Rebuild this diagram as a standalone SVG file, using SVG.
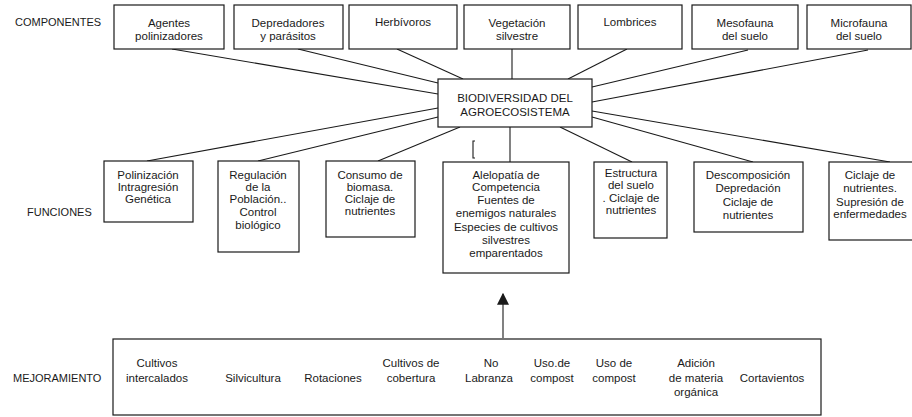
<svg xmlns="http://www.w3.org/2000/svg" width="912" height="417" viewBox="0 0 912 417">
<defs>
<style>
.box{fill:#fff;stroke:#1a1a1a;stroke-width:1.2}
.t{font-family:"Liberation Sans",Arial,sans-serif;font-size:11.5px;fill:#1a1a1a;text-anchor:middle}
.f{font-family:"Liberation Sans",Arial,sans-serif;font-size:11.5px;fill:#1a1a1a;text-anchor:middle}
.lab{font-family:"Liberation Sans",Arial,sans-serif;font-size:11px;fill:#1a1a1a}
.c{stroke:#1a1a1a;stroke-width:1.1;fill:none}
</style>
<marker id="ah" viewBox="0 0 10 10" refX="9" refY="5" markerWidth="12" markerHeight="12" markerUnits="userSpaceOnUse" orient="auto">
<path d="M0,0 L10,5 L0,10 z" fill="#1a1a1a"/>
</marker>
</defs>
<rect width="912" height="417" fill="#fff"/>

<text class="lab" x="15" y="26">COMPONENTES</text>
<text class="lab" x="27" y="216">FUNCIONES</text>
<text class="lab" x="13" y="382">MEJORAMIENTO</text>

<g id="connectors">
<line class="c" x1="172" y1="49" x2="438" y2="94"/>
<line class="c" x1="298" y1="49" x2="438" y2="83"/>
<line class="c" x1="397" y1="49" x2="463" y2="79"/>
<line class="c" x1="512" y1="49" x2="512" y2="79"/>
<line class="c" x1="627" y1="49" x2="568" y2="79"/>
<line class="c" x1="748" y1="50" x2="592" y2="87"/>
<line class="c" x1="868" y1="50" x2="592" y2="102"/>
<line class="c" x1="147" y1="161" x2="438" y2="108"/>
<line class="c" x1="258" y1="161" x2="438" y2="117"/>
<line class="c" x1="378" y1="161" x2="460" y2="127"/>
<line class="c" x1="510" y1="127" x2="510" y2="162"/>
<line class="c" x1="560" y1="127" x2="632" y2="162"/>
<line class="c" x1="592" y1="117" x2="753" y2="162"/>
<line class="c" x1="592" y1="111" x2="890" y2="162"/>
<path class="c" d="M475,141 L473,141 L473,158 L475,158"/>
<line class="c" x1="503" y1="338" x2="503" y2="294" marker-end="url(#ah)"/>
</g>

<g id="n-agentes"><rect class="box" x="114" y="5" width="110" height="44"/><text class="t" x="169" y="27">Agentes</text><text class="t" x="169" y="40">polinizadores</text></g>
<g id="n-depredadores"><rect class="box" x="234" y="5" width="109" height="44"/><text class="t" x="288" y="27">Depredadores</text><text class="t" x="288" y="40">y parásitos</text></g>
<g id="n-herbivoros"><rect class="box" x="349" y="5" width="108" height="44"/><text class="t" x="403" y="26">Herbívoros</text></g>
<g id="n-vegetacion"><rect class="box" x="464" y="5" width="106" height="44"/><text class="t" x="517" y="27">Vegetación</text><text class="t" x="517" y="40">silvestre</text></g>
<g id="n-lombrices"><rect class="box" x="578" y="5" width="104" height="44"/><text class="t" x="630" y="26">Lombrices</text></g>
<g id="n-mesofauna"><rect class="box" x="692" y="5" width="106" height="44"/><text class="t" x="745" y="27">Mesofauna</text><text class="t" x="745" y="40">del suelo</text></g>
<g id="n-microfauna"><rect class="box" x="807" y="5" width="104" height="44"/><text class="t" x="859" y="27">Microfauna</text><text class="t" x="859" y="40">del suelo</text></g>

<g id="n-biodiversidad"><rect class="box" x="438" y="79" width="154" height="48"/><text class="t" x="515" y="102">BIODIVERSIDAD DEL</text><text class="t" x="515" y="116">AGROECOSISTEMA</text></g>

<g id="n-f1"><rect class="box" x="104" y="161" width="89" height="61"/><text class="f" x="148" y="179">Polinización</text><text class="f" x="148" y="191">Intragresión</text><text class="f" x="148" y="203">Genética</text></g>
<g id="n-f2"><rect class="box" x="218" y="161" width="81" height="91"/><text class="f" x="258" y="179">Regulación</text><text class="f" x="258" y="191">de la</text><text class="f" x="258" y="203">Población..</text><text class="f" x="258" y="216">Control</text><text class="f" x="258" y="229">biológico</text></g>
<g id="n-f3"><rect class="box" x="326" y="161" width="89" height="76"/><text class="f" x="370" y="179">Consumo de</text><text class="f" x="370" y="191">biomasa.</text><text class="f" x="370" y="203">Ciclaje de</text><text class="f" x="370" y="215">nutrientes</text></g>
<g id="n-f4"><rect class="box" x="443" y="162" width="126" height="111"/><text class="f" x="506" y="179">Alelopatía de</text><text class="f" x="506" y="191">Competencia</text><text class="f" x="506" y="204">Fuentes de</text><text class="f" x="506" y="217">enemigos naturales</text><text class="f" x="506" y="231">Especies de cultivos</text><text class="f" x="506" y="244">silvestres</text><text class="f" x="506" y="257">emparentados</text></g>
<g id="n-f5"><rect class="box" x="594" y="162" width="73" height="76"/><text class="f" x="631" y="177">Estructura</text><text class="f" x="631" y="189">del suelo</text><text class="f" x="631" y="202">. Ciclaje de</text><text class="f" x="631" y="214">nutrientes</text></g>
<g id="n-f6"><rect class="box" x="694" y="162" width="109" height="70"/><text class="f" x="748" y="179">Descomposición</text><text class="f" x="748" y="192">Depredación</text><text class="f" x="748" y="206">Ciclaje de</text><text class="f" x="748" y="219">nutrientes</text></g>
<g id="n-f7"><rect class="box" x="829" y="162" width="90" height="78"/><text class="f" x="870" y="179">Ciclaje de</text><text class="f" x="870" y="192">nutrientes.</text><text class="f" x="870" y="206">Supresión de</text><text class="f" x="870" y="218">enfermedades</text></g>

<g id="n-mejoramiento"><rect class="box" x="113" y="339" width="708" height="76"/>
<text class="t" x="157" y="367">Cultivos</text><text class="t" x="157" y="382">intercalados</text>
<text class="t" x="253" y="382">Silvicultura</text>
<text class="t" x="333" y="382">Rotaciones</text>
<text class="t" x="411" y="367">Cultivos de</text><text class="t" x="411" y="382">cobertura</text>
<text class="t" x="491" y="367">No</text><text class="t" x="489" y="382">Labranza</text>
<text class="t" x="552" y="367">Uso.de</text><text class="t" x="552" y="382">compost</text>
<text class="t" x="614" y="367">Uso de</text><text class="t" x="614" y="382">compost</text>
<text class="t" x="696" y="367">Adición</text><text class="t" x="696" y="382">de materia</text><text class="t" x="696" y="396">orgánica</text>
<text class="t" x="772" y="382">Cortavientos</text>
</g>
</svg>
